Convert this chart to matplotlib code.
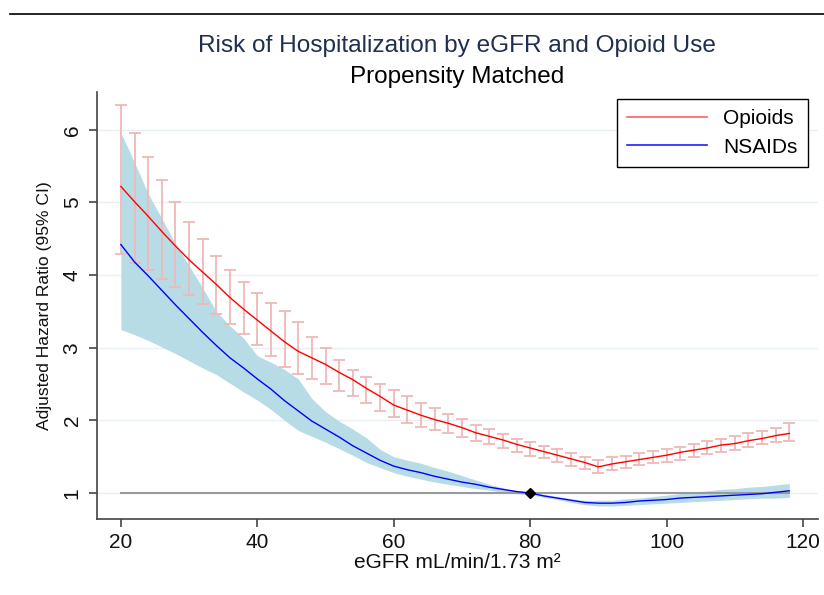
import matplotlib
matplotlib.use("Agg")
import matplotlib.pyplot as plt
from matplotlib.lines import Line2D

plt.rcParams['font.family'] = ['Liberation Sans', 'DejaVu Sans']

egfr = list(range(20, 120, 2))

opioid_hr = [5.22, 5.01, 4.81, 4.60, 4.40, 4.21, 4.04, 3.87, 3.69, 3.53,
             3.38, 3.23, 3.08, 2.95, 2.86, 2.77, 2.66, 2.56, 2.44, 2.33,
             2.21, 2.14, 2.07, 2.01, 1.96, 1.90, 1.83, 1.78, 1.73, 1.67,
             1.62, 1.57, 1.52, 1.47, 1.42, 1.36, 1.40, 1.43, 1.46, 1.49,
             1.52, 1.56, 1.59, 1.62, 1.66, 1.68, 1.72, 1.75, 1.79, 1.82]
opioid_hi = [6.34, 5.96, 5.63, 5.31, 5.00, 4.73, 4.49, 4.26, 4.07, 3.90,
             3.75, 3.62, 3.50, 3.35, 3.15, 2.99, 2.83, 2.69, 2.59, 2.50,
             2.42, 2.33, 2.24, 2.17, 2.09, 2.02, 1.94, 1.88, 1.81, 1.75,
             1.70, 1.65, 1.60, 1.55, 1.49, 1.45, 1.49, 1.51, 1.55, 1.58,
             1.61, 1.63, 1.67, 1.71, 1.74, 1.78, 1.82, 1.85, 1.90, 1.96]
opioid_lo = [4.29, 4.17, 4.07, 3.95, 3.83, 3.72, 3.60, 3.47, 3.33, 3.19,
             3.04, 2.89, 2.74, 2.64, 2.57, 2.50, 2.41, 2.33, 2.24, 2.13,
             2.05, 1.97, 1.91, 1.87, 1.82, 1.77, 1.72, 1.67, 1.62, 1.57,
             1.51, 1.48, 1.43, 1.37, 1.33, 1.28, 1.32, 1.35, 1.38, 1.41,
             1.43, 1.46, 1.50, 1.53, 1.57, 1.59, 1.64, 1.67, 1.70, 1.72]

nsaid_hr = [4.42, 4.18, 3.99, 3.79, 3.59, 3.40, 3.21, 3.03, 2.86, 2.72,
            2.57, 2.43, 2.27, 2.13, 1.99, 1.88, 1.77, 1.65, 1.55, 1.45,
            1.37, 1.32, 1.28, 1.23, 1.19, 1.15, 1.12, 1.08, 1.05, 1.02,
            1.00, 0.96, 0.93, 0.90, 0.87, 0.86, 0.86, 0.87, 0.89, 0.90,
            0.91, 0.93, 0.94, 0.95, 0.96, 0.97, 0.98, 0.99, 1.01, 1.03]
nsaid_hi = [5.96, 5.55, 5.12, 4.78, 4.43, 4.13, 3.82, 3.50, 3.30, 3.13,
            2.89, 2.80, 2.70, 2.57, 2.30, 2.12, 1.99, 1.88, 1.76, 1.60,
            1.50, 1.45, 1.41, 1.35, 1.30, 1.24, 1.18, 1.12, 1.07, 1.03,
            1.01, 0.98, 0.95, 0.92, 0.90, 0.90, 0.90, 0.92, 0.93, 0.95,
            0.97, 0.99, 1.01, 1.03, 1.05, 1.06, 1.08, 1.09, 1.11, 1.13]
nsaid_lo = [3.25, 3.18, 3.10, 3.01, 2.92, 2.82, 2.72, 2.63, 2.51, 2.39,
            2.28, 2.15, 2.00, 1.86, 1.78, 1.70, 1.61, 1.52, 1.42, 1.35,
            1.28, 1.23, 1.19, 1.15, 1.12, 1.09, 1.06, 1.04, 1.01, 0.99,
            0.98, 0.94, 0.91, 0.87, 0.84, 0.82, 0.82, 0.83, 0.84, 0.85,
            0.86, 0.87, 0.88, 0.89, 0.90, 0.91, 0.92, 0.93, 0.93, 0.94]

ref_x = [20, 118]
ref_y = [1, 1]
ref_point_x = [80]
ref_point_y = [1]

xticks = [20, 40, 60, 80, 100, 120]
yticks = [1, 2, 3, 4, 5, 6]

fig = plt.figure(figsize=(8.24, 5.95), dpi=100)
fig.add_artist(Line2D([10/824, 1.0], [1 - 14/595, 1 - 14/595], color='black', lw=1.2,
                      transform=fig.transFigure))

ax = fig.add_axes([97/824, 76/595, 721/824, 427/595])

for t in yticks:
    ax.axhline(t, color='#e8f0f2', lw=1.0, zorder=0)

ax.fill_between(egfr, nsaid_lo, nsaid_hi, color='#b8dce6', lw=0, zorder=1)
ax.plot(ref_x, ref_y, color='#9a9a9a', lw=1.5, zorder=2)
err_lo = [h - l for h, l in zip(opioid_hr, opioid_lo)]
err_hi = [u - h for h, u in zip(opioid_hr, opioid_hi)]
ax.errorbar(egfr, opioid_hr, yerr=[err_lo, err_hi], fmt='none', ecolor='#f0b8b8',
            elinewidth=1.3, capsize=4, capthick=1.3, zorder=3)
ax.plot(egfr, nsaid_hr, color='#0000ff', lw=1.0, zorder=4)
ax.plot(egfr, opioid_hr, color='#ff0000', lw=1.0, zorder=5)
ax.plot(ref_point_x, ref_point_y, marker='D', color='black', ms=5, zorder=6, ls='none')

ax.set_xlim(16.5, 122.2)
ax.set_ylim(0.642, 6.52)
ax.set_xticks(xticks)
ax.set_yticks(yticks)
ax.set_yticklabels([str(t) for t in yticks], rotation=90, va='center')
ax.tick_params(axis='both', direction='out', length=6, width=1.2, color='#444444',
               labelsize=15, labelcolor='#111111')
ax.tick_params(axis='x', pad=4)
ax.tick_params(axis='y', pad=5)
for s in ['top', 'right']:
    ax.spines[s].set_visible(False)
for s in ['left', 'bottom']:
    ax.spines[s].set_color('#444444')
    ax.spines[s].set_linewidth(1.2)

ax.set_xlabel('eGFR mL/min/1.73 m²', fontsize=15, color='#111111', labelpad=1)
ax.set_ylabel('Adjusted Hazard Ratio (95% CI)', fontsize=12.6, color='#111111', labelpad=8)

fig.text(457/824, 1 - 46/595, 'Risk of Hospitalization by eGFR and Opioid Use',
         ha='center', va='center', fontsize=17.6, color='#1f2f50')
fig.text(457/824, 1 - 77/595, 'Propensity Matched', ha='center', va='center',
         fontsize=17.5, color='black')

handles = [Line2D([], [], color='#ff6060', lw=1.2), Line2D([], [], color='#2020ff', lw=1.2)]
leg = ax.legend(handles, ['Opioids', 'NSAIDs'], loc='upper right',
                bbox_to_anchor=(808/824, 1 - 99/595), bbox_transform=fig.transFigure,
                fancybox=False, framealpha=1, edgecolor='black', fontsize=15,
                handlelength=3.8, borderpad=0.5, labelspacing=0.45, handletextpad=0.8,
                borderaxespad=0)
leg.get_frame().set_linewidth(1.0)

fig.savefig('out.png', dpi=100)
